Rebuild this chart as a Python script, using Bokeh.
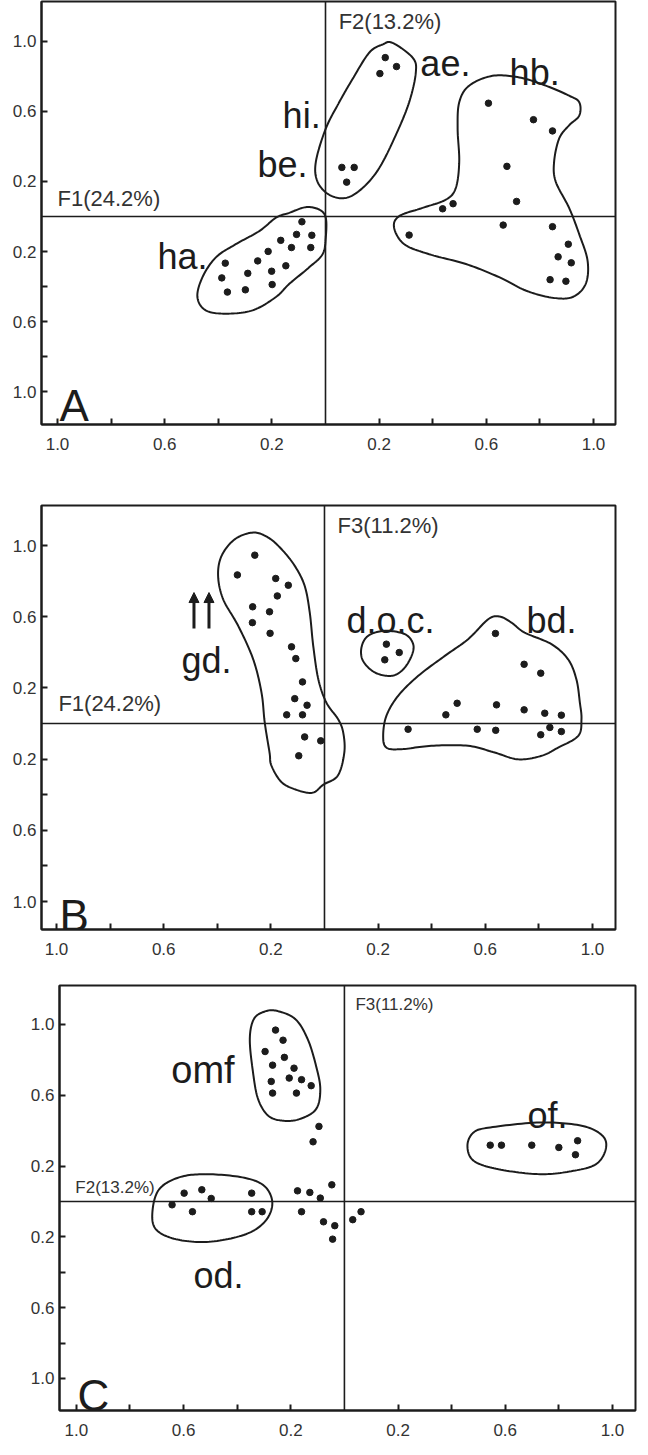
import numpy as np
from bokeh.plotting import figure
from bokeh.layouts import column, row
from bokeh.models import FixedTicker, Span, Label, Arrow, NormalHead, Spacer
from bokeh.embed import file_html
from bokeh.resources import INLINE

# ---------------- Panel A : F1 (x) vs F2 (y) ----------------
a_ae_x = [0.223, 0.265, 0.203, 0.061, 0.107, 0.079]
a_ae_y = [0.906, 0.855, 0.815, 0.280, 0.280, 0.196]
a_hb_x = [0.608, 0.776, 0.847, 0.677, 0.713, 0.476, 0.437, 0.663, 0.847, 0.312,
          0.906, 0.868, 0.917, 0.838, 0.897]
a_hb_y = [0.646, 0.552, 0.488, 0.286, 0.086, 0.073, 0.044, -0.049, -0.058, -0.106,
          -0.158, -0.230, -0.264, -0.360, -0.369]
a_ha_x = [-0.088, -0.108, -0.051, -0.167, -0.127, -0.055, -0.214, -0.253, -0.148, -0.374,
          -0.201, -0.290, -0.387, -0.199, -0.299, -0.366]
a_ha_y = [-0.030, -0.102, -0.107, -0.136, -0.177, -0.177, -0.199, -0.253, -0.281, -0.266,
          -0.312, -0.324, -0.350, -0.388, -0.418, -0.431]
# group outlines (hand drawn envelopes)
a_ae_ox = [0.250, 0.325, 0.337, 0.312, 0.262, 0.200, 0.138, 0.076, 0.014, -0.030, -0.036,
           0.001, 0.051, 0.101, 0.163, 0.213]
a_ae_oy = [0.990, 0.906, 0.821, 0.651, 0.463, 0.275, 0.162, 0.106, 0.124, 0.199, 0.312,
           0.501, 0.651, 0.784, 0.934, 0.981]
a_hb_ox = [0.499, 0.536, 0.623, 0.723, 0.822, 0.909, 0.947, 0.947, 0.909, 0.872, 0.853,
           0.859, 0.909, 0.947, 0.978, 0.971, 0.922, 0.847, 0.747, 0.648, 0.524, 0.387,
           0.294, 0.256, 0.275, 0.362, 0.449, 0.486, 0.499, 0.493]
a_hb_oy = [0.651, 0.746, 0.802, 0.793, 0.746, 0.689, 0.651, 0.576, 0.520, 0.445, 0.312,
           0.199, 0.049, -0.102, -0.253, -0.384, -0.459, -0.463, -0.422, -0.346, -0.271,
           -0.215, -0.158, -0.064, 0.002, 0.049, 0.096, 0.162, 0.312, 0.501]
a_ha_ox = [-0.074, -0.024, 0.001, 0.001, -0.011, -0.061, -0.135, -0.185, -0.272, -0.372,
           -0.447, -0.478, -0.459, -0.409, -0.335, -0.247, -0.185, -0.135]
a_ha_oy = [0.053, 0.040, -0.007, -0.120, -0.215, -0.290, -0.384, -0.459, -0.535, -0.554,
           -0.535, -0.459, -0.346, -0.233, -0.158, -0.083, -0.007, 0.021]

# ---------------- Panel B : F1 (x) vs F3 (y) ----------------
b_gd_x = [-0.260, -0.325, -0.182, -0.135, -0.176, -0.268, -0.205, -0.269, -0.203, -0.123,
          -0.107, -0.082, -0.111, -0.065, -0.141, -0.082, -0.074, -0.014, -0.096]
b_gd_y = [0.946, 0.835, 0.815, 0.777, 0.717, 0.656, 0.628, 0.567, 0.507, 0.431,
          0.365, 0.234, 0.140, 0.103, 0.049, 0.049, -0.075, -0.097, -0.181]
b_doc_x = [0.231, 0.279, 0.225]
b_doc_y = [0.446, 0.399, 0.358]
b_bd_x = [0.638, 0.745, 0.807, 0.495, 0.642, 0.453, 0.745, 0.822, 0.884, 0.312,
          0.570, 0.639, 0.841, 0.807, 0.884]
b_bd_y = [0.506, 0.333, 0.283, 0.114, 0.105, 0.049, 0.077, 0.058, 0.047, -0.032,
          -0.032, -0.038, -0.022, -0.063, -0.045]
b_gd_ox = [-0.266, -0.210, -0.160, -0.111, -0.074, -0.055, -0.042, -0.023, 0.007, 0.051,
           0.070, 0.074, 0.050, -0.004, -0.043, -0.097, -0.159, -0.198, -0.205, -0.223,
           -0.235, -0.266, -0.322, -0.378, -0.397, -0.384, -0.335]
b_gd_oy = [1.073, 1.045, 0.979, 0.886, 0.774, 0.624, 0.437, 0.249, 0.118, 0.024,
           -0.051, -0.163, -0.292, -0.343, -0.388, -0.376, -0.331, -0.236, -0.163, 0.006,
           0.174, 0.361, 0.549, 0.698, 0.830, 0.942, 1.035]
b_doc_ox = [0.225, 0.300, 0.331, 0.325, 0.294, 0.250, 0.188, 0.144, 0.138, 0.163]
b_doc_oy = [0.521, 0.502, 0.446, 0.380, 0.305, 0.268, 0.287, 0.352, 0.427, 0.493]
b_bd_ox = [0.654, 0.698, 0.747, 0.847, 0.909, 0.940, 0.953, 0.959, 0.947, 0.872, 0.810,
           0.723, 0.635, 0.536, 0.399, 0.287, 0.231, 0.219, 0.231, 0.275, 0.350, 0.449,
           0.536, 0.611]
b_bd_oy = [0.601, 0.567, 0.511, 0.446, 0.361, 0.249, 0.118, 0.024, -0.069, -0.135, -0.181,
           -0.201, -0.163, -0.125, -0.125, -0.144, -0.135, -0.069, 0.043, 0.156, 0.268, 0.380,
           0.474, 0.586]

# ---------------- Panel C : F2 (x) vs F3 (y) ----------------
c_omf_x = [-0.257, -0.229, -0.296, -0.224, -0.268, -0.188, -0.206, -0.160, -0.273, -0.124,
           -0.179, -0.268]
c_omf_y = [0.968, 0.911, 0.847, 0.814, 0.770, 0.753, 0.697, 0.688, 0.678, 0.654,
           0.612, 0.612]
c_free_x = [-0.095, -0.117, -0.175, -0.129, -0.090, -0.047, -0.160, -0.078, -0.036, -0.044,
            0.031, 0.062]
c_free_y = [0.424, 0.337, 0.060, 0.051, 0.019, 0.094, -0.058, -0.115, -0.137, -0.213,
            -0.103, -0.058]
c_od_x = [-0.643, -0.598, -0.532, -0.497, -0.567, -0.346, -0.346, -0.307]
c_od_y = [-0.019, 0.047, 0.066, 0.017, -0.058, 0.047, -0.058, -0.058]
c_of_x = [0.544, 0.586, 0.699, 0.800, 0.870, 0.862]
c_of_y = [0.318, 0.318, 0.318, 0.305, 0.343, 0.264]
c_omf_ox = [-0.253, -0.183, -0.137, -0.106, -0.090, -0.106, -0.168, -0.229, -0.284, -0.322,
            -0.341, -0.353, -0.338, -0.299]
c_omf_oy = [1.077, 1.030, 0.917, 0.767, 0.634, 0.521, 0.465, 0.456, 0.484, 0.578,
            0.729, 0.917, 1.030, 1.072]
c_of_ox = [0.544, 0.730, 0.885, 0.963, 0.975, 0.939, 0.854, 0.730, 0.575, 0.482, 0.459, 0.482]
c_of_oy = [0.418, 0.446, 0.428, 0.371, 0.295, 0.211, 0.173, 0.154, 0.182, 0.230, 0.315, 0.390]
c_od_ox = [-0.518, -0.381, -0.300, -0.269, -0.294, -0.368, -0.505, -0.629, -0.704, -0.716,
           -0.691, -0.617]
c_od_oy = [0.154, 0.136, 0.089, -0.006, -0.109, -0.185, -0.228, -0.213, -0.156, -0.053,
           0.069, 0.136]

# axis ticks and labels
y_ticks = [-1.0, -0.8, -0.6, -0.4, -0.2, 0.2, 0.6, 1.0]
y_tick_labels = ["1.0", "", "0.6", "", "0.2", "0.2", "0.6", "1.0"]
x_ticks = [-1.0, -0.8, -0.6, -0.4, -0.2, 0.2, 0.4, 0.6, 0.8, 1.0]
x_tick_labels = ["1.0", "", "0.6", "", "0.2", "0.2", "", "0.6", "", "1.0"]

FONT = "Liberation Sans"
INK = "#1c1c1c"


def smooth_closed(xs, ys, n=14):
    pts = np.column_stack([xs, ys]).astype(float)
    N = len(pts)
    out = []
    for i in range(N):
        p0, p1, p2, p3 = pts[(i - 1) % N], pts[i], pts[(i + 1) % N], pts[(i + 2) % N]
        for t in np.linspace(0, 1, n, endpoint=False):
            t2, t3 = t * t, t * t * t
            out.append(0.5 * ((2 * p1) + (-p0 + p2) * t + (2 * p0 - 5 * p1 + 4 * p2 - p3) * t2
                              + (-p0 + 3 * p1 - 3 * p2 + p3) * t3))
    out.append(out[0])
    out = np.array(out)
    return out[:, 0], out[:, 1]


def make_panel(fw, fh, borders, xr, yr):
    l, r, t, b = borders
    p = figure(frame_width=fw, frame_height=fh, x_range=xr, y_range=yr,
               min_border_left=l, min_border_right=r, min_border_top=t, min_border_bottom=b,
               toolbar_location=None, output_backend="svg", title=None,
               background_fill_color="white", border_fill_color="white")
    p.grid.visible = False
    p.outline_line_color = INK
    p.outline_line_width = 2
    for ax, ticks, labs in ((p.xaxis[0], x_ticks, x_tick_labels), (p.yaxis[0], y_ticks, y_tick_labels)):
        ax.ticker = FixedTicker(ticks=ticks)
        ax.major_label_overrides = {float(v): s for v, s in zip(ticks, labs)}
        ax.axis_line_color = INK
        ax.axis_line_width = 2
        ax.major_tick_in = 6
        ax.major_tick_out = 0
        ax.major_tick_line_width = 2
        ax.major_tick_line_color = INK
        ax.minor_tick_line_color = None
        ax.major_label_text_font = FONT
        ax.major_label_text_font_size = "17px"
        ax.major_label_text_color = "#333333"
    p.xaxis.major_label_standoff = 13
    p.yaxis.major_label_standoff = 5
    p.add_layout(Span(location=0, dimension="width", line_color=INK, line_width=1.6))
    p.add_layout(Span(location=0, dimension="height", line_color=INK, line_width=1.6))
    return p


def outline(p, xs, ys):
    sx, sy = smooth_closed(xs, ys)
    p.line(sx, sy, line_color=INK, line_width=2)


def dots(p, xs, ys):
    p.scatter(xs, ys, size=6.5, marker="circle", fill_color=INK, line_color=INK)


def label(p, x, y, text, size, baseline="alphabetic", color=INK):
    p.add_layout(Label(x=x, y=y, text=text, text_font=FONT, text_font_size=size,
                       text_color=color, text_baseline=baseline, text_align="left"))


# ---- A
pa = make_panel(574, 423, (41, 25, 1, 43), (-1.0597, 1.0821), (-1.186, 1.226))
outline(pa, a_ae_ox, a_ae_oy)
outline(pa, a_hb_ox, a_hb_oy)
outline(pa, a_ha_ox, a_ha_oy)
dots(pa, a_ae_x, a_ae_y)
dots(pa, a_hb_x, a_hb_y)
dots(pa, a_ha_x, a_ha_y)
label(pa, 0.049, 1.113, "F2(13.2%)", "22px", "middle", "#333333")
label(pa, -1.0, 0.102, "F1(24.2%)", "22px", "middle", "#333333")
label(pa, -0.160, 0.576, "hi.", "36px")
label(pa, -0.254, 0.294, "be.", "36px")
label(pa, 0.354, 0.870, "ae.", "36px")
label(pa, 0.687, 0.819, "hb.", "36px")
label(pa, -0.627, -0.226, "ha.", "36px")
label(pa, -0.993, -1.079, "A", "44px")

# ---- B
pb = make_panel(574, 424, (41, 25, 38, 41), (-1.056, 1.086), (-1.157, 1.225))
outline(pb, b_gd_ox, b_gd_oy)
outline(pb, b_doc_ox, b_doc_oy)
outline(pb, b_bd_ox, b_bd_oy)
dots(pb, b_gd_x, b_gd_y)
dots(pb, b_doc_x, b_doc_y)
dots(pb, b_bd_x, b_bd_y)
label(pb, 0.049, 1.112, "F3(11.2%)", "22px", "middle", "#333333")
label(pb, -0.993, 0.112, "F1(24.2%)", "22px", "middle", "#333333")
label(pb, 0.082, 0.579, "d.o.c.", "36px")
label(pb, 0.754, 0.579, "bd.", "36px")
label(pb, -0.534, 0.354, "gd.", "36px")
label(pb, -0.989, -1.079, "B", "44px")
for ax_ in (-0.487, -0.431):
    pb.add_layout(Arrow(end=NormalHead(size=10, fill_color=INK, line_color=INK),
                        x_start=ax_, y_start=0.534, x_end=ax_, y_end=0.736,
                        line_color=INK, line_width=3))

# ---- C
pc = make_panel(576, 425, (41, 5, 15, 37), (-1.063, 1.086), (-1.181, 1.220))
outline(pc, c_omf_ox, c_omf_oy)
outline(pc, c_of_ox, c_of_oy)
outline(pc, c_od_ox, c_od_oy)
dots(pc, c_omf_x, c_omf_y)
dots(pc, c_free_x, c_free_y)
dots(pc, c_od_x, c_od_y)
dots(pc, c_of_x, c_of_y)
label(pc, 0.041, 1.113, "F3(11.2%)", "17px", "middle", "#333333")
label(pc, -1.004, 0.079, "F2(13.2%)", "17px", "middle", "#333333")
label(pc, -0.646, 0.740, "omf", "38px")
label(pc, 0.683, 0.486, "of.", "36px")
label(pc, -0.563, -0.418, "od.", "36px")
label(pc, -0.996, -1.096, "C", "44px")

layout = column(pa, pb, row(Spacer(width=18, height=477), pc, spacing=0), spacing=0)
open("out.html", "w").write(file_html(layout, INLINE))
